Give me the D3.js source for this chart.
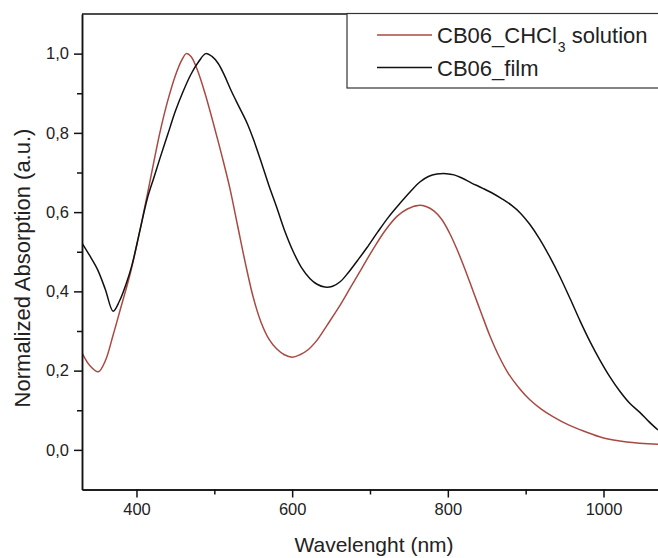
<!DOCTYPE html>
<html>
<head>
<meta charset="utf-8">
<script src="https://cdn.jsdelivr.net/npm/d3@7"></script>
<style>
  body { margin: 0; background: #fff; }
  svg { display: block; font-family: "Liberation Sans", Arial, sans-serif; }
</style>
</head>
<body>
<div id="chart"></div>
<script>
// wavelength (nm) / normalized absorption
const solutionWl = [330, 340, 351, 360, 370, 380, 392, 404, 415, 430, 440, 450, 458, 464, 470, 478, 488, 500, 510, 520, 530, 540, 550, 560, 570, 580, 590, 600, 610, 620, 632, 645, 660, 675, 690, 705, 720, 735, 748, 762, 772, 782, 792, 802, 812, 822, 832, 843, 854, 866, 878, 892, 905, 920, 935, 955, 975, 1000, 1030, 1070]
const solutionAbs = [0.245, 0.213, 0.197, 0.225, 0.29, 0.36, 0.445, 0.55, 0.655, 0.8, 0.88, 0.945, 0.983, 1.0, 0.993, 0.96, 0.9, 0.815, 0.74, 0.66, 0.565, 0.47, 0.385, 0.322, 0.28, 0.255, 0.24, 0.234, 0.24, 0.252, 0.277, 0.315, 0.36, 0.41, 0.46, 0.51, 0.555, 0.59, 0.608, 0.617, 0.614, 0.603, 0.582, 0.548, 0.505, 0.456, 0.403, 0.345, 0.288, 0.235, 0.192, 0.155, 0.127, 0.103, 0.084, 0.063, 0.047, 0.03, 0.02, 0.014]

const filmWl = [330, 340, 350, 360, 370, 378, 386, 394, 404, 414, 422, 430, 440, 450, 460, 470, 480, 489, 497, 505, 513, 522, 532, 542, 550, 560, 570, 580, 590, 601, 612, 623, 632, 642, 652, 662, 672, 684, 696, 710, 724, 738, 752, 764, 775, 786, 798, 808, 818, 830, 845, 858, 870, 882, 893, 905, 918, 931, 944, 957, 970, 983, 995, 1008, 1021, 1034, 1047, 1058, 1070]
const filmAbs = [0.522, 0.49, 0.455, 0.405, 0.35, 0.375, 0.415, 0.465, 0.55, 0.635, 0.685, 0.735, 0.795, 0.855, 0.905, 0.948, 0.98, 1.0, 0.993, 0.975, 0.945, 0.905, 0.865, 0.825, 0.785, 0.728, 0.668, 0.613, 0.555, 0.502, 0.46, 0.432, 0.418, 0.411, 0.413, 0.425, 0.447, 0.478, 0.51, 0.55, 0.588, 0.621, 0.652, 0.676, 0.69, 0.696, 0.697, 0.694, 0.686, 0.674, 0.66, 0.647, 0.633, 0.617, 0.598, 0.57, 0.532, 0.487, 0.437, 0.382, 0.325, 0.272, 0.228, 0.185, 0.148, 0.117, 0.094, 0.072, 0.05]

const xMajor = [400, 600, 800, 1000]
const xMinor = [500, 700, 900]
const yMajor = [0, 0.2, 0.4, 0.6, 0.8, 1.0]
const yMinor = [0.1, 0.3, 0.5, 0.7, 0.9]

const width = 658
const height = 558
const margin = { left: 82, top: 14, right: 0, bottom: 68.5 }
const solutionColor = '#a84a42'
const filmColor = '#111'

const svg = d3
  .select('#chart')
  .append('svg')
  .attr('width', width)
  .attr('height', height)
  .attr('viewBox', `0 0 ${width} ${height}`)

const x = d3.scaleLinear().domain([330, 1070]).range([margin.left, width - margin.right])
const y = d3.scaleLinear().domain([-0.1, 1.1]).range([height - margin.bottom, margin.top])

svg
  .append('clipPath')
  .attr('id', 'plot-clip')
  .append('rect')
  .attr('x', margin.left)
  .attr('y', margin.top)
  .attr('width', width - margin.left)
  .attr('height', height - margin.top - margin.bottom)

// curves
const line = d3
  .line()
  .x((d) => x(d[0]))
  .y((d) => y(d[1]))
  .curve(d3.curveCatmullRom.alpha(0.5))

const series = [
  { label: 'solution', wl: solutionWl, abs: solutionAbs, color: solutionColor },
  { label: 'film', wl: filmWl, abs: filmAbs, color: filmColor },
]

const curves = svg.append('g').attr('clip-path', 'url(#plot-clip)')
series.forEach((s) => {
  curves
    .append('path')
    .datum(d3.zip(s.wl, s.abs))
    .attr('d', line)
    .attr('fill', 'none')
    .attr('stroke', s.color)
    .attr('stroke-width', 1.5)
})

// axes
const fmtY = (d) => d3.format('.1f')(d).replace('.', ',')
const yAxisG = svg.append('g').attr('transform', `translate(${margin.left},0)`)
yAxisG.call(d3.axisLeft(y).tickValues(yMajor).tickFormat(fmtY).tickSize(8).tickSizeOuter(0))
yAxisG.append('g').call(d3.axisLeft(y).tickValues(yMinor).tickFormat('').tickSize(5).tickSizeOuter(0))

const xAxisG = svg.append('g').attr('transform', `translate(0,${height - margin.bottom})`)
xAxisG.call(d3.axisBottom(x).tickValues(xMajor).tickFormat(d3.format('d')).tickSize(8).tickSizeOuter(0))
xAxisG.append('g').call(d3.axisBottom(x).tickValues(xMinor).tickFormat('').tickSize(5).tickSizeOuter(0))

svg.selectAll('.domain, .tick line').attr('stroke', '#111').attr('stroke-width', 1.5)
yAxisG.selectAll('.tick text').attr('font-size', 16.5).attr('fill', '#222').attr('x', -13)
xAxisG.selectAll('.tick text').attr('font-size', 16.5).attr('fill', '#222').attr('y', 14)
svg.selectAll('.domain').attr('fill', 'none')

// top frame line
svg
  .append('line')
  .attr('x1', margin.left)
  .attr('x2', width)
  .attr('y1', margin.top)
  .attr('y2', margin.top)
  .attr('stroke', '#111')
  .attr('stroke-width', 1.5)

// axis titles
svg
  .append('text')
  .attr('x', 374)
  .attr('y', 552)
  .attr('text-anchor', 'middle')
  .attr('font-size', 21)
  .attr('fill', '#222')
  .text('Wavelenght (nm)')

svg
  .append('text')
  .attr('transform', 'translate(30,268) rotate(-90)')
  .attr('text-anchor', 'middle')
  .attr('font-size', 22)
  .attr('fill', '#222')
  .text('Normalized Absorption (a.u.)')

// legend
const legend = svg.append('g')
legend
  .append('rect')
  .attr('x', 347)
  .attr('y', 13.5)
  .attr('width', 400)
  .attr('height', 74.5)
  .attr('fill', '#fff')
  .attr('stroke', '#333')
  .attr('stroke-width', 1.2)

const legendRows = [
  { color: solutionColor, y: 35 },
  { color: filmColor, y: 67.5 },
]
legendRows.forEach((r) => {
  legend
    .append('line')
    .attr('x1', 377)
    .attr('x2', 432)
    .attr('y1', r.y)
    .attr('y2', r.y)
    .attr('stroke', r.color)
    .attr('stroke-width', 1.5)
})

const t1 = legend
  .append('text')
  .attr('x', 437)
  .attr('y', 43)
  .attr('font-size', 22)
  .attr('fill', '#222')
t1.append('tspan').text('CB06_CHCl')
t1.append('tspan').attr('font-size', 14).attr('dy', 9).attr('dx', 1).text('3')
t1.append('tspan').attr('dy', -9).text(' solution')

legend
  .append('text')
  .attr('x', 437)
  .attr('y', 75.5)
  .attr('font-size', 22)
  .attr('fill', '#222')
  .text('CB06_film')
</script>
</body>
</html>
